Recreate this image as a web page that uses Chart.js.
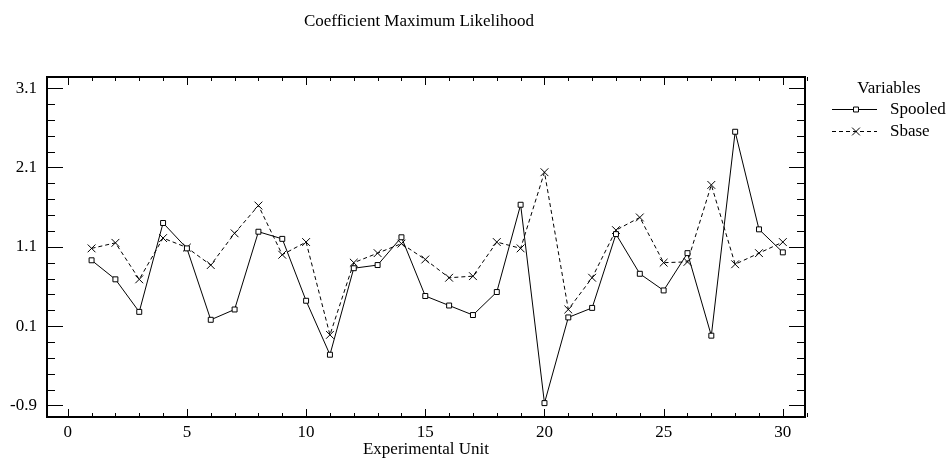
<!DOCTYPE html>
<html>
<head>
<meta charset="utf-8">
<script src="https://cdn.jsdelivr.net/npm/chart.js@4/dist/chart.umd.min.js"></script>
<style>
  body { margin: 0; background: #fff; }
  #wrap { width: 949px; height: 468px; }
</style>
</head>
<body>
<div id="wrap"><canvas id="chart" width="949" height="468"></canvas></div>
<script>
// Data
const units = [1, 2, 3, 4, 5, 6, 7, 8, 9, 10, 11, 12, 13, 14, 15, 16, 17, 18, 19, 20, 21, 22, 23, 24, 25, 26, 27, 28, 29, 30];
const spooled = [0.93, 0.69, 0.28, 1.40, 1.08, 0.18, 0.31, 1.29, 1.20, 0.42, -0.26, 0.83, 0.87, 1.22, 0.48, 0.36, 0.24, 0.53, 1.63, -0.87, 0.21, 0.33, 1.26, 0.76, 0.55, 1.02, -0.02, 2.55, 1.32, 1.03];
const sbase = [1.08, 1.15, 0.69, 1.21, 1.09, 0.87, 1.27, 1.62, 1.00, 1.16, -0.01, 0.90, 1.02, 1.14, 0.94, 0.71, 0.73, 1.16, 1.08, 2.04, 0.31, 0.71, 1.31, 1.47, 0.90, 0.91, 1.88, 0.88, 1.02, 1.16];

const xTicks = [0, 5, 10, 15, 20, 25, 30];
const yTicks = [-0.9, 0.1, 1.1, 2.1, 3.1];

const FONT = 'Liberation Serif';

// Frame, inward ticks, title, axis title and legend
const decor = {
    id: 'decor',
    afterDraw(chart) {
        const { ctx, chartArea: a, scales: { x, y } } = chart;
        ctx.save();
        ctx.strokeStyle = '#000';

        // tick marks on all four sides
        ctx.lineWidth = 1;
        ctx.beginPath();
        for (let v = 0; v <= 31; v++) {
            const px = Math.round(x.getPixelForValue(v)) + 0.5;
            const len = v % 5 === 0 ? 8 : 4;
            ctx.moveTo(px, a.bottom); ctx.lineTo(px, a.bottom - len);
            ctx.moveTo(px, a.top); ctx.lineTo(px, a.top + len);
        }
        for (let i = 0; i <= 20; i++) {
            const v = -0.9 + i * 0.2;
            if (v > y.max) break;
            const py = Math.round(y.getPixelForValue(v)) + 0.5;
            const len = i % 5 === 0 ? 16 : 8;
            ctx.moveTo(a.left, py); ctx.lineTo(a.left + len, py);
            ctx.moveTo(a.right, py); ctx.lineTo(a.right - len, py);
        }
        ctx.stroke();

        // frame
        ctx.lineWidth = 2;
        ctx.strokeRect(a.left, a.top, a.right - a.left, a.bottom - a.top);

        // texts
        ctx.fillStyle = '#000';
        ctx.font = '17px "' + FONT + '"';
        ctx.textBaseline = 'alphabetic';
        ctx.textAlign = 'center';
        ctx.fillText('Coefficient Maximum Likelihood', 419, 26);
        ctx.fillText('Experimental Unit', (a.left + a.right) / 2, 454);
        ctx.fillText('Variables', 889, 93);

        // legend entries
        const entries = [
            { label: 'Spooled', y: 109, ds: chart.data.datasets[0] },
            { label: 'Sbase', y: 131, ds: chart.data.datasets[1] }
        ];
        entries.forEach(e => {
            ctx.lineWidth = 1;
            ctx.setLineDash(e.ds.borderDash || []);
            ctx.beginPath();
            ctx.moveTo(832, e.y + 0.5);
            ctx.lineTo(877, e.y + 0.5);
            ctx.stroke();
            ctx.setLineDash([]);
            ctx.fillStyle = '#fff';
            Chart.helpers.drawPoint(ctx, {
                pointStyle: e.ds.pointStyle,
                radius: e.ds.pointRadius,
                borderWidth: 1
            }, 856, e.y + 0.5);
            ctx.fillStyle = '#000';
            ctx.textAlign = 'left';
            ctx.fillText(e.label, 890, e.y + 5);
        });
        ctx.restore();
    }
};

const data = {
    datasets: [{
        label: 'Spooled',
        data: units.map((u, i) => ({ x: u, y: spooled[i] })),
        borderColor: '#000',
        borderWidth: 1,
        pointStyle: 'rect',
        pointRadius: 3.5,
        pointBorderWidth: 1,
        pointBackgroundColor: '#fff',
        pointBorderColor: '#000',
        tension: 0
    }, {
        label: 'Sbase',
        data: units.map((u, i) => ({ x: u, y: sbase[i] })),
        borderColor: '#000',
        borderWidth: 1,
        borderDash: [4, 3],
        pointStyle: 'crossRot',
        pointRadius: 5.5,
        pointBorderWidth: 1,
        pointBorderColor: '#000',
        tension: 0
    }]
};

new Chart(document.getElementById('chart'), {
    type: 'line',
    data,
    plugins: [decor],
    options: {
        responsive: false,
        animation: false,
        devicePixelRatio: 1,
        layout: { padding: { top: 77, right: 144, left: 0, bottom: 0 } },
        plugins: { legend: { display: false }, tooltip: { enabled: false } },
        scales: {
            x: {
                type: 'linear',
                min: -0.87,
                max: 30.93,
                grid: { display: false, drawTicks: false },
                border: { display: false },
                afterBuildTicks: s => { s.ticks = xTicks.map(v => ({ value: v })); },
                afterFit: s => { s.height = 51; },
                ticks: {
                    autoSkip: false,
                    maxRotation: 0,
                    padding: 5,
                    color: '#000',
                    font: { family: FONT, size: 17 }
                }
            },
            y: {
                min: -1.045,
                max: 3.24,
                grid: { display: false, drawTicks: false },
                border: { display: false },
                afterBuildTicks: s => { s.ticks = yTicks.map(v => ({ value: v })); },
                afterFit: s => { s.width = 47; },
                ticks: {
                    padding: 10,
                    color: '#000',
                    font: { family: FONT, size: 17 },
                    callback: v => v.toFixed(1)
                }
            }
        }
    }
});
</script>
</body>
</html>
